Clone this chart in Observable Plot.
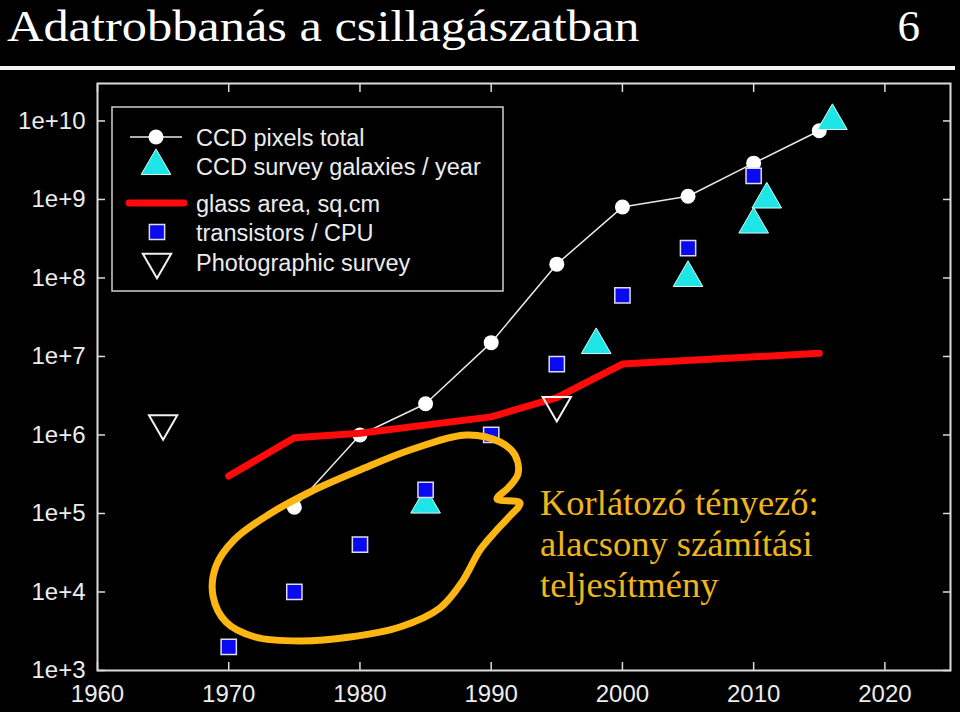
<!DOCTYPE html>
<html><head><meta charset="utf-8">
<script src="https://cdn.jsdelivr.net/npm/d3@7"></script>
<script src="https://cdn.jsdelivr.net/npm/@observablehq/plot@0.6"></script>
<style>
html,body{margin:0;padding:0;background:#000;}
#page{position:relative;width:960px;height:712px;background:#000;overflow:hidden;}
#title{position:absolute;left:7px;top:0px;font-family:"Liberation Serif","Times New Roman",serif;font-size:45px;line-height:normal;color:#fff;white-space:nowrap;transform:scaleX(1.12);transform-origin:0 0;}
#num{position:absolute;right:40px;top:0px;font-family:"Liberation Serif","Times New Roman",serif;font-size:45px;line-height:normal;color:#fff;}
#rule{position:absolute;left:0;top:66px;width:955px;height:4px;background:#f4f4f4;}
#chart{position:absolute;left:0;top:72px;}
#overlay{position:absolute;left:0;top:0;pointer-events:none;}
#note{position:absolute;left:540px;top:482px;font-family:"Liberation Serif","Times New Roman",serif;font-size:36.5px;line-height:41px;color:#f0b41e;white-space:nowrap;}
</style>
</head><body>
<div id="page">
  <div id="title">Adatrobbanás a csillagászatban</div>
  <div id="num">6</div>
  <div id="rule"></div>
  <div id="chart"></div>
  <svg id="overlay" width="960" height="712"></svg>
  <div id="note">Korlátozó tényező:<br>alacsony számítási<br>teljesítmény</div>
</div>
<script>
// ---- data ----
const xTicks = [1960, 1970, 1980, 1990, 2000, 2010, 2020];
const yTicks = [1e3, 1e4, 1e5, 1e6, 1e7, 1e8, 1e9, 1e10];

const ccdYears = [1975, 1980, 1985, 1990, 1995, 2000, 2005, 2010, 2015];
const ccdPixels = [1.2e5, 1.0e6, 2.5e6, 1.5e7, 1.5e8, 8.0e8, 1.1e9, 2.9e9, 7.5e9];

const galaxyYears = [1985, 1998, 2005, 2010, 2011, 2016];
const galaxies = [1.3e5, 1.4e7, 1.0e8, 4.8e8, 1.0e9, 1.0e10];

const glassYears = [1970, 1975, 1980, 1990, 1995, 2000, 2015];
const glassArea = [3.0e5, 9.2e5, 1.05e6, 1.7e6, 3.0e6, 8.0e6, 1.1e7];

const cpuYears = [1970, 1975, 1980, 1985, 1990, 1995, 2000, 2005, 2010];
const transistors = [2.0e3, 1.0e4, 4.0e4, 2.0e5, 1.0e6, 8.0e6, 6.0e7, 2.4e8, 2.0e9];

const photoYears = [1965, 1995];
const photoSurvey = [1.4e6, 2.4e6];

const legendLabels = ["CCD pixels total", "CCD survey galaxies / year", "glass area, sq.cm", "transistors / CPU", "Photographic survey"];

// ---- tables ----
const zip = (xs, ys) => xs.map((x, i) => ({x, y: ys[i]}));
const ccd = zip(ccdYears, ccdPixels);
const gal = zip(galaxyYears, galaxies);
const glass = zip(glassYears, glassArea);
const cpu = zip(cpuYears, transistors);
const photo = zip(photoYears, photoSurvey);

const downTriangle = {
  draw(ctx, size) {
    const y = Math.sqrt(size / (Math.sqrt(3) * 3));
    ctx.moveTo(0, y * 2);
    ctx.lineTo(-Math.sqrt(3) * y, -y);
    ctx.lineTo(Math.sqrt(3) * y, -y);
    ctx.closePath();
  }
};

const fmt = d => "1e+" + Math.round(Math.log10(d));
const axisStroke = "#dcdcdc";

const chart = Plot.plot({
  width: 960, height: 640,
  marginTop: 11, marginBottom: 42, marginLeft: 97, marginRight: 10,
  style: {background: "black", color: "#ececec", fontFamily: "'Liberation Sans', Arial, sans-serif", fontSize: "24px"},
  x: {domain: [1960, 2025]},
  y: {type: "log", domain: [1e3, 3e10]},
  marks: [
    Plot.axisX({ticks: xTicks, tickSize: 0, tickPadding: 14, tickFormat: d => String(d), label: null}),
    Plot.axisX({ticks: xTicks, tickSize: 8, dy: -8, text: null, stroke: axisStroke, strokeWidth: 1.5, label: null}),
    Plot.axisX({anchor: "top", ticks: xTicks, tickSize: 8, dy: 8, text: null, stroke: axisStroke, strokeWidth: 1.5, label: null}),
    Plot.axisY({ticks: yTicks, tickSize: 0, tickPadding: 12, tickFormat: fmt, label: null}),
    Plot.axisY({ticks: yTicks, tickSize: 8, dx: 8, text: null, stroke: axisStroke, strokeWidth: 1.5, label: null}),
    Plot.axisY({anchor: "right", ticks: yTicks, tickSize: 8, dx: -8, text: null, stroke: axisStroke, strokeWidth: 1.5, label: null}),
    Plot.frame({stroke: axisStroke, strokeWidth: 2}),
    Plot.line(ccd, {x: "x", y: "y", stroke: "#e8e8e8", strokeWidth: 1.5}),
    Plot.dot(ccd, {x: "x", y: "y", r: 7.5, fill: "#ffffff", stroke: "none"}),
    Plot.dot(gal, {x: "x", y: "y", symbol: "triangle", r: 11, fill: "#1fe6e6", stroke: "#d8f8f8", strokeWidth: 1}),
    Plot.line(glass, {x: "x", y: "y", stroke: "#ff0a0a", strokeWidth: 7, strokeLinecap: "round", strokeLinejoin: "round"}),
    Plot.dot(cpu, {x: "x", y: "y", symbol: "square", r: 8.6, fill: "#0a0af0", stroke: "#dcdcf0", strokeWidth: 1.5}),
    Plot.dot(photo, {x: "x", y: "y", symbol: downTriangle, r: 10.5, fill: "none", stroke: "#f2f2f2", strokeWidth: 2})
  ]
});
document.getElementById("chart").appendChild(chart);

// ---- legend + hand-drawn annotation loop (overlay) ----
const svg = d3.select("#overlay");
const lg = svg.append("g");
lg.append("rect").attr("x", 112).attr("y", 107).attr("width", 391).attr("height", 184)
  .attr("fill", "black").attr("stroke", "#cfcfcf").attr("stroke-width", 1.5);
const rowY = [137, 166, 203, 232, 262];
const sym = d3.symbol();
// row 1
lg.append("line").attr("x1", 130).attr("x2", 182).attr("y1", rowY[0]).attr("y2", rowY[0]).attr("stroke", "#e8e8e8").attr("stroke-width", 1.5);
lg.append("circle").attr("cx", 156).attr("cy", rowY[0]).attr("r", 7.5).attr("fill", "#fff");
// row 2
lg.append("path").attr("d", sym.type(d3.symbolTriangle).size(Math.PI * 121)()).attr("transform", `translate(156,${rowY[1]})`)
  .attr("fill", "#1fe6e6").attr("stroke", "#d8f8f8");
// row 3
lg.append("line").attr("x1", 129).attr("x2", 184).attr("y1", rowY[2]).attr("y2", rowY[2]).attr("stroke", "#ff0a0a").attr("stroke-width", 7).attr("stroke-linecap", "round");
// row 4
lg.append("path").attr("d", sym.type(d3.symbolSquare).size(Math.PI * 8.6 * 8.6)()).attr("transform", `translate(157,${rowY[3]})`)
  .attr("fill", "#0a0af0").attr("stroke", "#dcdcf0").attr("stroke-width", 1.5);
// row 5
lg.append("path").attr("d", sym.type(downTriangle).size(Math.PI * 110)()).attr("transform", `translate(157,${rowY[4]})`)
  .attr("fill", "none").attr("stroke", "#f2f2f2").attr("stroke-width", 2);
legendLabels.forEach((t, i) => {
  lg.append("text").attr("x", 196).attr("y", rowY[i] + 8.5).text(t)
    .attr("fill", "#ececec").attr("font-family", "'Liberation Sans', Arial, sans-serif").attr("font-size", 23.5);
});

const loop = [[467,435],[500,442],[515,455],[518,474],[508,488],[497,499],[520,503],[508,518],[495,532],[480,550],[462,582],[440,608],[400,627],[350,637],[300,641],[255,637],[226,622],[213,596],[216,566],[234,540],[268,515],[310,492],[360,470],[410,450]];
svg.append("path").attr("d", d3.line().curve(d3.curveCatmullRomClosed.alpha(0.5))(loop))
  .attr("fill", "none").attr("stroke", "#fbb614").attr("stroke-width", 7).attr("stroke-linejoin", "round");
</script>
</body></html>
